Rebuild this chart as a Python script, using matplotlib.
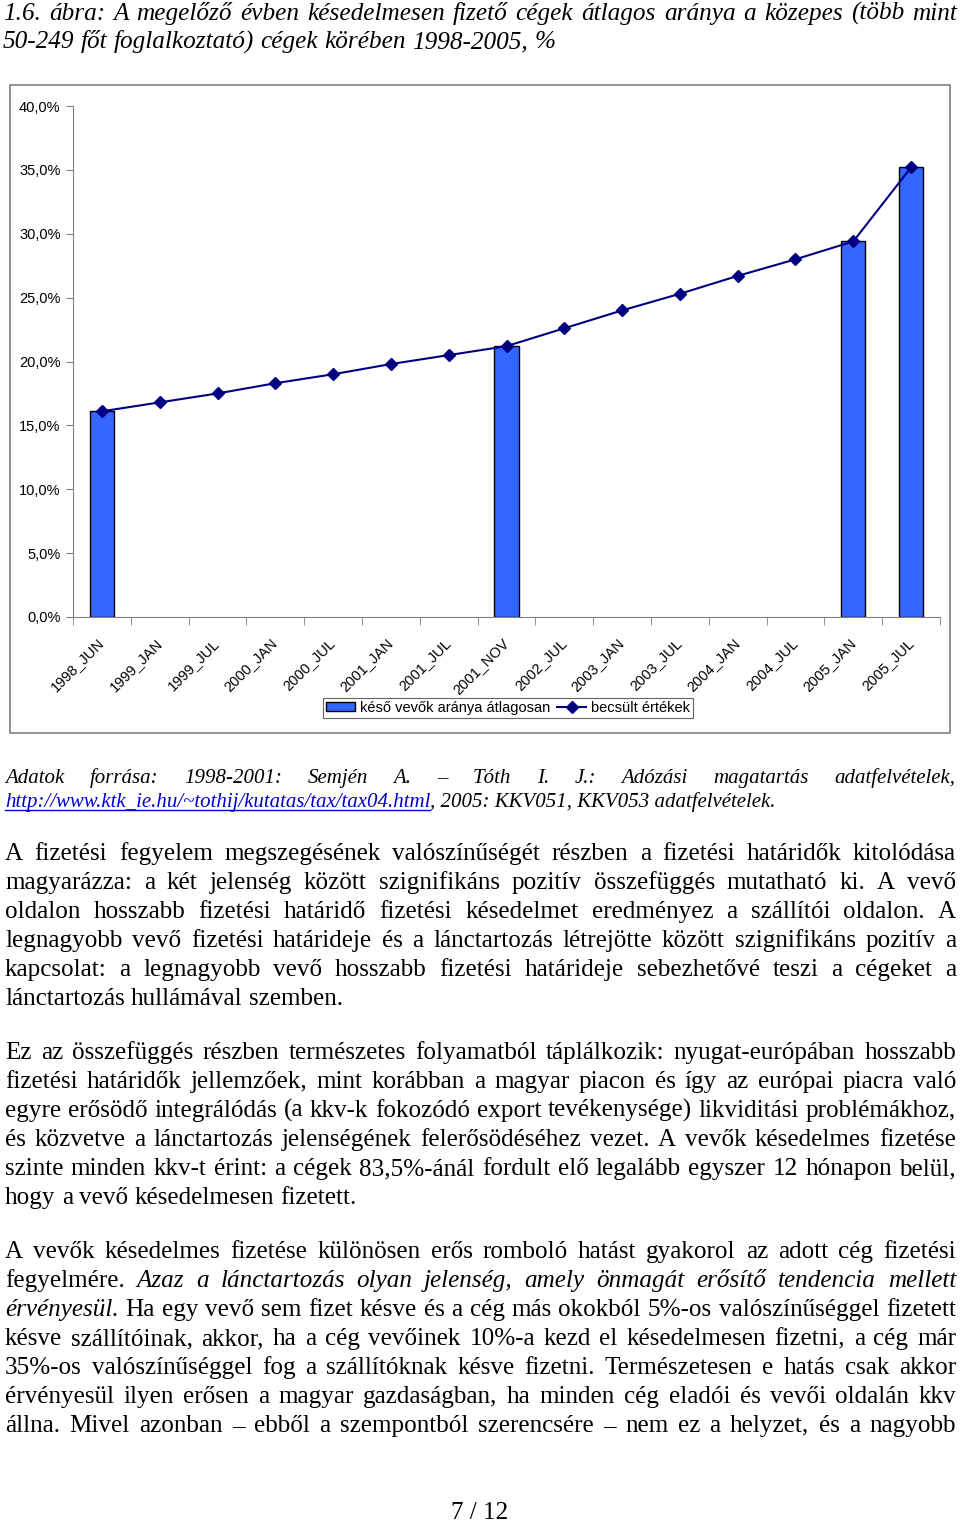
import numpy as np
import matplotlib
matplotlib.use('Agg')
import matplotlib.pyplot as plt
from matplotlib.transforms import IdentityTransform, ScaledTranslation
from matplotlib.patches import Rectangle
from matplotlib.lines import Line2D

W, H = 960, 1524
SERIF = ['Liberation Serif', 'DejaVu Serif']
SANS = ['Liberation Sans', 'DejaVu Sans']

# ------------------------------------------------------------
# chart data (%)
# ------------------------------------------------------------
CATEGORIES = ['1998_JUN', '1999_JAN', '1999_JUL', '2000_JAN', '2000_JUL',
              '2001_JAN', '2001_JUL', '2001_NOV', '2002_JUL', '2003_JAN',
              '2003_JUL', '2004_JAN', '2004_JUL', '2005_JAN', '2005_JUL']
MEASURED = [16.1, np.nan, np.nan, np.nan, np.nan, np.nan, np.nan, 21.2,
            np.nan, np.nan, np.nan, np.nan, np.nan, 29.4, 35.2]
ESTIMATED = [16.1, 16.8, 17.5, 18.3, 19.0, 19.8, 20.5, 21.2,
             22.6, 24.0, 25.3, 26.7, 28.0, 29.4, 35.2]
Y_TICKS = [0, 5, 10, 15, 20, 25, 30, 35, 40]
LEGEND_LABELS = ['késő vevők aránya átlagosan', 'becsült értékek']

# ------------------------------------------------------------
# page text ( |...| = italic )
# ------------------------------------------------------------
TITLE = ['1.6. ábra: A megelőző évben késedelmesen fizető cégek átlagos aránya a közepes (több mint',
         '50-249 főt foglalkoztató) cégek körében 1998-2005, %']
SOURCE_1 = 'Adatok forrása: 1998-2001: Semjén A. – Tóth I. J.: Adózási magatartás adatfelvételek,'
SOURCE_URL = 'http://www.ktk_ie.hu/~tothij/kutatas/tax/tax04.html'
SOURCE_REST = ', 2005: KKV051, KKV053 adatfelvételek.'

PARA_1 = [
    'A fizetési fegyelem megszegésének valószínűségét részben a fizetési határidők kitolódása',
    'magyarázza: a két jelenség között szignifikáns pozitív összefüggés mutatható ki. A vevő',
    'oldalon hosszabb fizetési határidő fizetési késedelmet eredményez a szállítói oldalon. A',
    'legnagyobb vevő fizetési határideje és a lánctartozás létrejötte között szignifikáns pozitív a',
    'kapcsolat: a legnagyobb vevő hosszabb fizetési határideje sebezhetővé teszi a cégeket a',
    'lánctartozás hullámával szemben.',
]
PARA_2 = [
    'Ez az összefüggés részben természetes folyamatból táplálkozik: nyugat-európában hosszabb',
    'fizetési határidők jellemzőek, mint korábban a magyar piacon és így az európai piacra való',
    'egyre erősödő integrálódás (a kkv-k fokozódó export tevékenysége) likviditási problémákhoz,',
    'és közvetve a lánctartozás jelenségének felerősödéséhez vezet. A vevők késedelmes fizetése',
    'szinte minden kkv-t érint: a cégek 83,5%-ánál fordult elő legalább egyszer 12 hónapon belül,',
    'hogy a vevő késedelmesen fizetett.',
]
PARA_3 = [
    'A vevők késedelmes fizetése különösen erős romboló hatást gyakorol az adott cég fizetési',
    'fegyelmére. |Azaz a lánctartozás olyan jelenség, amely önmagát erősítő tendencia mellett|',
    '|érvényesül.| Ha egy vevő sem fizet késve és a cég más okokból 5%-os valószínűséggel fizetett',
    'késve szállítóinak, akkor, ha a cég vevőinek 10%-a kezd el késedelmesen fizetni, a cég már',
    '35%-os valószínűséggel fog a szállítóknak késve fizetni. Természetesen e hatás csak akkor',
    'érvényesül ilyen erősen a magyar gazdaságban, ha minden cég eladói és vevői oldalán kkv',
    'állna. Mivel azonban – ebből a szempontból szerencsére – nem ez a helyzet, és a nagyobb',
]
PAGE_NO = '7 / 12'

fig = plt.figure(figsize=(W / 100, H / 100), dpi=100)
fig.patch.set_facecolor('white')
renderer = fig.canvas.get_renderer()
PX = IdentityTransform()


def text_width(s, size, style='normal'):
    t = fig.text(0, 0, s, fontsize=size, style=style, family=SERIF, transform=PX)
    w = t.get_window_extent(renderer).width
    t.remove()
    return w


def parse(line):
    words = []
    for i, seg in enumerate(line.split('|')):
        style = 'italic' if i % 2 else 'normal'
        words += [(w, style) for w in seg.split()]
    return words


def draw_line(line, y, size, justify, x0=5, x1=956, base_style='normal', color='black'):
    words = parse(line)
    if base_style == 'italic':
        words = [(w, 'italic') for w, _ in words]
    widths = [text_width(w, size, s) for w, s in words]
    if justify and len(words) > 1:
        gap = (x1 - x0 - sum(widths)) / (len(words) - 1)
    else:
        gap = text_width('a a', size) - 2 * text_width('a', size)
    x = x0
    for (w, s), wd in zip(words, widths):
        fig.text(x, H - y, w, fontsize=size, style=s, family=SERIF, color=color,
                 ha='left', va='baseline', transform=PX)
        x += wd + gap
    return x


# ------------------------------------------------------------
# text sizes fitted to the page
# ------------------------------------------------------------
body_size = 18 * 352 / text_width('hogy a vevő késedelmesen fizetett.', 18)
title_size = 18 * 552 / text_width(TITLE[1], 18, 'italic')
src_size = 16 * 773 / text_width(SOURCE_URL + SOURCE_REST, 16, 'italic')

# title
draw_line(TITLE[0], 20, title_size, True, x0=3, x1=957, base_style='italic')
draw_line(TITLE[1], 48, title_size, False, x0=3, base_style='italic')

# ------------------------------------------------------------
# chart
# ------------------------------------------------------------
fig.add_artist(Rectangle((10, H - 733), 940, 648, transform=PX, fill=False,
                         edgecolor='#808080', lw=1.2))

ax = fig.add_axes([73 / W, 1 - 617 / H, (940 - 73) / W, (617 - 106) / H])
x = np.arange(len(CATEGORIES))
bars = ax.bar(x, MEASURED, width=0.42, color='#3366FF', edgecolor='black',
              linewidth=1.0, zorder=2, label=LEGEND_LABELS[0])
line, = ax.plot(x, ESTIMATED, color='#000080', lw=1.5, marker='D', ms=6,
                zorder=3, label=LEGEND_LABELS[1])
ax.set_xlim(-0.5, len(CATEGORIES) - 0.5)
ax.set_ylim(0, 40)
ax.set_yticks(Y_TICKS)
ax.set_yticklabels([f'{v:.1f}'.replace('.', ',') + '%' for v in Y_TICKS],
                   family=SANS, fontsize=10.5)
ax.set_xticks(x)
ax.set_xticklabels(CATEGORIES, rotation=45, ha='right', va='center',
                   rotation_mode='anchor', family=SANS, fontsize=10.5)
shift = ScaledTranslation(-6 / 100, 3 / 100, fig.dpi_scale_trans)
for lab in ax.get_xticklabels():
    lab.set_transform(lab.get_transform() + shift)
ax.set_xticks(np.arange(-0.5, len(CATEGORIES)), minor=True)
ax.tick_params(axis='x', which='major', length=0, pad=17)
ax.tick_params(axis='x', which='minor', length=6, color='#808080', direction='out')
ax.tick_params(axis='y', length=5, color='#808080', direction='out', pad=4)
for side in ['top', 'right']:
    ax.spines[side].set_visible(False)
for side in ['left', 'bottom']:
    ax.spines[side].set_color('#808080')
ax.set_facecolor('none')

leg = ax.legend(handles=[bars, line], loc='center', ncol=2,
                bbox_to_anchor=(508 / W, 1 - 708 / H), bbox_transform=fig.transFigure,
                prop={'family': SANS, 'size': 10.5}, frameon=True, fancybox=False,
                borderpad=0.2, handlelength=2.0, handletextpad=0.3,
                columnspacing=0.5, handleheight=0.6)
leg.get_frame().set_edgecolor('#404040')
leg.get_frame().set_linewidth(0.8)

# ------------------------------------------------------------
# source + body text
# ------------------------------------------------------------
draw_line(SOURCE_1, 783, src_size, True, x0=5, x1=955, base_style='italic')
url_w = text_width(SOURCE_URL, src_size, 'italic')
fig.text(5, H - 807, SOURCE_URL, fontsize=src_size, style='italic', family=SERIF,
         color='#0000CC', ha='left', va='baseline', transform=PX)
fig.add_artist(Line2D([5, 5 + url_w], [H - 810, H - 810], transform=PX,
                      color='#0000CC', lw=1))
fig.text(5 + url_w, H - 807, SOURCE_REST, fontsize=src_size, style='italic',
         family=SERIF, ha='left', va='baseline', transform=PX)

for para, y0, last_justified in [(PARA_1, 860, False), (PARA_2, 1059, False),
                                 (PARA_3, 1258, True)]:
    for i, ln in enumerate(para):
        just = last_justified or i < len(para) - 1
        draw_line(ln, y0 + 29 * i, body_size, just)

fig.text(480, H - 1519, PAGE_NO, fontsize=body_size, family=SERIF,
         ha='center', va='baseline', transform=PX)

fig.savefig('out.png', dpi=100, facecolor='white')
